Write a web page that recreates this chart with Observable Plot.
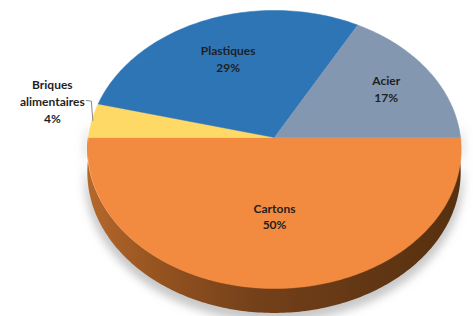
<!DOCTYPE html>
<html>
<head>
<meta charset="utf-8">
<script src="https://cdn.jsdelivr.net/npm/d3@7"></script>
<script src="https://cdn.jsdelivr.net/npm/@observablehq/plot@0.6"></script>
<style>
  html, body { margin: 0; padding: 0; background: #ffffff; }
  #chart svg { display: block; }
</style>
</head>
<body>
<div id="chart"></div>
<script>
// ---- data ----
const categories = ["Cartons", "Briques alimentaires", "Plastiques", "Acier"];
const values = [50, 4, 29, 17];
const labelTexts = ["Cartons", "Briques\nalimentaires", "Plastiques", "Acier"];
const colors = ["#F28A40", "#FFD966", "#2E75B6", "#8497B0"];

// ---- 3D-ish projection of a unit disc ----
const persp = 0.0863;   // perspective strength
const depth = 0.165;    // thickness of the pie (in disc units)
function proj(r, t, h = 0) {
  const u = r * Math.cos(t), v = r * Math.sin(t);
  const w = 1 - persp * v;
  return {X: u / w, Y: (v + depth * h) / w};
}

const total = d3.sum(values);
let acc = 0;
const slices = categories.map((c, i) => {
  const a0 = acc / total * 2 * Math.PI;
  acc += values[i];
  const a1 = acc / total * 2 * Math.PI;
  return {category: c, value: values[i], a0, a1, mid: (a0 + a1) / 2, text: labelTexts[i]};
});

// slice polygons (top face)
const polyPts = [];
slices.forEach(s => {
  polyPts.push({category: s.category, ...proj(0, 0)});
  const n = Math.max(4, Math.ceil((s.a1 - s.a0) / 0.02));
  for (let k = 0; k <= n; k++) {
    const t = s.a0 + (s.a1 - s.a0) * k / n;
    polyPts.push({category: s.category, ...proj(1, t)});
  }
});

// side wall (front half only)
const side = [];
for (let k = 0; k <= 200; k++) {
  const t = Math.PI * k / 200;
  const top = proj(1, t, 0), bot = proj(1, t, 1);
  side.push({X: top.X, Y1: top.Y, Y2: bot.Y});
}
// soft shadow
const shadow = [];
for (let k = 0; k <= 200; k++) {
  const t = -0.1 + (Math.PI + 0.2) * k / 200;
  const top = proj(1.015, t, 0), bot = proj(1.015, t, 1.25);
  shadow.push({X: top.X, Y1: top.Y, Y2: bot.Y});
}

// labels
const labelRadius = {"Cartons": 0.54, "Plastiques": 0.66, "Acier": 0.72};
const inside = slices.filter(s => labelRadius[s.category] !== undefined).map(s => ({
  ...proj(labelRadius[s.category], s.mid),
  text: s.text + "\n" + s.value + "%"
}));
const bri = slices[1];
const edge = proj(0.995, bri.mid);
const leader = [
  {X: edge.X, Y: edge.Y},
  {X: edge.X - 0.008, Y: edge.Y - 0.14},
  {X: edge.X - 0.035, Y: edge.Y - 0.145}
];
const outside = [{X: edge.X - 0.035, Y: edge.Y - 0.145, text: bri.text + "\n" + bri.value + "%"}];

const font = "Lato, 'Open Sans', sans-serif";
const plot = Plot.plot({
  width: 473,
  height: 316,
  margin: 0,
  x: {domain: [-1, 1], range: [88, 460], axis: null},
  y: {domain: [-1, 1], range: [-1, 275], axis: null},
  color: {domain: categories, range: colors},
  marks: [
    Plot.areaY(shadow, {x: "X", y1: "Y1", y2: "Y2", fill: "#9a9a9a", fillOpacity: 0.55}),
    Plot.areaY(side, {x: "X", y1: "Y1", y2: "Y2", fill: "#6E3D17"}),
    Plot.line(polyPts, {x: "X", y: "Y", z: "category", fill: "category", stroke: "category", strokeWidth: 0.5, curve: "linear-closed"}),
    Plot.line(leader, {x: "X", y: "Y", stroke: "#8a8a8a", strokeWidth: 1}),
    Plot.text(inside, {x: "X", y: "Y", text: "text", fontFamily: font, fontWeight: "bold", fontSize: 12, lineHeight: 1.4, fill: "#1f1f1f"}),
    Plot.text(outside, {x: "X", y: "Y", text: "text", textAnchor: "middle", dx: -34, dy: 0, fontFamily: font, fontWeight: "bold", fontSize: 12, lineHeight: 1.4, fill: "#1f1f1f"})
  ]
});

// gradient + blur definitions
const ns = "http://www.w3.org/2000/svg";
const defs = document.createElementNS(ns, "defs");
defs.innerHTML = `
  <linearGradient id="sideGrad" x1="0" x2="1" y1="0" y2="0">
    <stop offset="0" stop-color="#B5682C"/>
    <stop offset="0.2" stop-color="#94521F"/>
    <stop offset="0.45" stop-color="#74401A"/>
    <stop offset="0.75" stop-color="#633714"/>
    <stop offset="1" stop-color="#56300F"/>
  </linearGradient>
  <filter id="blurShadow" x="-20%" y="-20%" width="140%" height="140%">
    <feGaussianBlur stdDeviation="4"/>
  </filter>`;
plot.insertBefore(defs, plot.firstChild);
const areas = plot.querySelectorAll('g[aria-label="area"]');
if (areas[0]) areas[0].setAttribute("filter", "url(#blurShadow)");
if (areas[1]) areas[1].querySelectorAll("path").forEach(p => p.setAttribute("fill", "url(#sideGrad)"));
document.getElementById("chart").append(plot);
</script>
</body>
</html>
